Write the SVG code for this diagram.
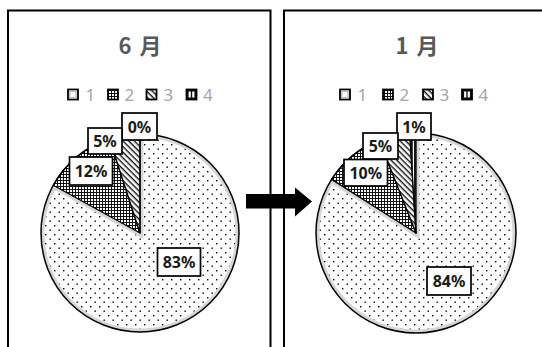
<svg xmlns="http://www.w3.org/2000/svg" width="542" height="347" viewBox="0 0 542 347">
<style>
.frame{fill:none;stroke:#000;stroke-width:2}
.title{font-family:"Noto Sans CJK JP","Noto Sans",sans-serif;font-weight:bold;font-size:22px;fill:#595959;text-anchor:middle;word-spacing:3px}
.leg{font-family:"Noto Sans","Liberation Sans",sans-serif;font-size:17px;fill:#a6a6a6}
.icon{stroke:#000;stroke-width:1.8}
.lbl{fill:#fff;stroke:#000;stroke-width:1.7}
.lt{font-family:"Noto Sans","Liberation Sans",sans-serif;font-weight:bold;font-size:16px;fill:#1a1a1a;text-anchor:middle}
.s1{fill:url(#pDots);stroke:#d6d6d6;stroke-width:7}
.sb{stroke:#000;stroke-width:1.3;stroke-linejoin:round}
.outline{fill:none;stroke:#000;stroke-width:1.5}
</style>
<defs>
<pattern id="pDots" width="9" height="9" patternUnits="userSpaceOnUse">
<rect width="9" height="9" fill="#fff"/>
<rect x="0" y="0" width="1.4" height="1.4" fill="#000"/>
<rect x="4.5" y="4.5" width="1.4" height="1.4" fill="#000"/>
</pattern>
<pattern id="pCheck" width="3" height="3" patternUnits="userSpaceOnUse">
<rect width="3" height="3" fill="#fff"/>
<rect x="0" y="0" width="3" height="1" fill="#111"/>
<rect x="0" y="0" width="1" height="3" fill="#111"/>
</pattern>
<pattern id="pDiag" width="4" height="4" patternUnits="userSpaceOnUse" patternTransform="rotate(45)">
<rect width="4" height="4" fill="#fff"/>
<rect x="0" y="0" width="4" height="1.4" fill="#111"/>
</pattern>
<pattern id="pVert" width="3" height="3" patternUnits="userSpaceOnUse">
<rect width="3" height="3" fill="#fff"/>
<rect x="0" y="0" width="1.8" height="3" fill="#111"/>
</pattern>
<clipPath id="cL1"><path d="M140,233 L140,134 A99,99 0 1 1 53.25,185.3 Z"/></clipPath>
<clipPath id="cR1"><path d="M416,233 L416,133 A100,100 0 1 1 331.57,179.42 Z"/></clipPath>
</defs>

<g id="panel-june">
<path class="frame" d="M8,347 V10.5 H270.5 V347"/>
<text class="title" x="140" y="53.5">6 月</text>
<g id="legend-june">
<rect class="icon" x="68" y="89.5" width="10" height="10" fill="#fff"/>
<rect x="69.8" y="91.3" width="6.4" height="6.4" fill="none" stroke="#bbb" stroke-width="1.4"/>
<text class="leg" x="85.5" y="101">1</text>
<rect class="icon" x="108" y="89.5" width="10" height="10" fill="url(#pCheck)"/>
<text class="leg" x="124.5" y="101">2</text>
<rect class="icon" x="146.5" y="89.5" width="10" height="10" fill="url(#pDiag)"/>
<text class="leg" x="163.5" y="101">3</text>
<rect class="icon" x="186.5" y="89.5" width="10" height="10" fill="#111"/>
<rect x="188.6" y="91.5" width="2.2" height="6" fill="#fff"/>
<rect x="192.2" y="91.5" width="2.2" height="6" fill="#fff"/>
<text class="leg" x="203" y="101">4</text>
</g>
<g id="pie-june">
<path class="s1" clip-path="url(#cL1)" d="M140,233 L140,134 A99,99 0 1 1 53.25,185.3 Z"/>
<path class="sb" fill="url(#pCheck)" d="M140,233 L53.25,185.3 A99,99 0 0 1 109.4,138.8 Z"/>
<path class="sb" fill="url(#pDiag)" d="M140,233 L109.4,138.8 A99,99 0 0 1 140,134 Z"/>
<line x1="140" y1="233" x2="140" y2="134" stroke="#000" stroke-width="1.3"/>
<circle class="outline" cx="140" cy="233" r="99"/>
</g>
<g id="labels-june">
<rect class="lbl" x="122" y="113" width="35" height="27"/>
<text class="lt" x="139.5" y="132.5">0%</text>
<rect class="lbl" x="88" y="128" width="34" height="26"/>
<text class="lt" x="105" y="147">5%</text>
<rect class="lbl" x="69.5" y="157" width="43" height="28"/>
<text class="lt" x="91" y="177">12%</text>
<rect class="lbl" x="157.5" y="248" width="43" height="28"/>
<text class="lt" x="179" y="268">83%</text>
</g>
</g>

<g id="panel-january">
<path class="frame" d="M284,347 V10.5 H542"/>
<text class="title" x="417" y="53.5">1 月</text>
<g id="legend-january">
<rect class="icon" x="340" y="89.5" width="10" height="10" fill="#fff"/>
<rect x="341.8" y="91.3" width="6.4" height="6.4" fill="none" stroke="#bbb" stroke-width="1.4"/>
<text class="leg" x="357.5" y="101">1</text>
<rect class="icon" x="383" y="89.5" width="10" height="10" fill="url(#pCheck)"/>
<text class="leg" x="399.5" y="101">2</text>
<rect class="icon" x="423" y="89.5" width="10" height="10" fill="url(#pDiag)"/>
<text class="leg" x="439.5" y="101">3</text>
<rect class="icon" x="462" y="89.5" width="10" height="10" fill="#111"/>
<rect x="464.1" y="91.5" width="2.2" height="6" fill="#fff"/>
<rect x="467.7" y="91.5" width="2.2" height="6" fill="#fff"/>
<text class="leg" x="478.5" y="101">4</text>
</g>
<g id="pie-january">
<path class="s1" clip-path="url(#cR1)" d="M416,233 L416,133 A100,100 0 1 1 331.57,179.42 Z"/>
<path class="sb" fill="url(#pCheck)" d="M416,233 L331.57,179.42 A100,100 0 0 1 379.19,140.02 Z"/>
<path class="sb" fill="url(#pDiag)" d="M416,233 L379.19,140.02 A100,100 0 0 1 409.72,133.2 Z"/>
<path class="sb" fill="url(#pVert)" d="M416,233 L409.72,133.2 A100,100 0 0 1 416,133 Z"/>
<circle class="outline" cx="416" cy="233" r="100"/>
</g>
<g id="labels-january">
<rect class="lbl" x="397" y="113" width="34" height="27"/>
<text class="lt" x="414" y="132.5">1%</text>
<rect class="lbl" x="363" y="133" width="35" height="26"/>
<text class="lt" x="380.5" y="152">5%</text>
<rect class="lbl" x="344" y="159.5" width="43.5" height="26.5"/>
<text class="lt" x="365.75" y="179">10%</text>
<rect class="lbl" x="427" y="267" width="44" height="28"/>
<text class="lt" x="449" y="287">84%</text>
</g>
</g>

<g id="connectors">
<path d="M246,194 H295 V187.5 L312,201.5 L295,216.5 V208.5 H246 Z" fill="#000"/>
</g>
</svg>
